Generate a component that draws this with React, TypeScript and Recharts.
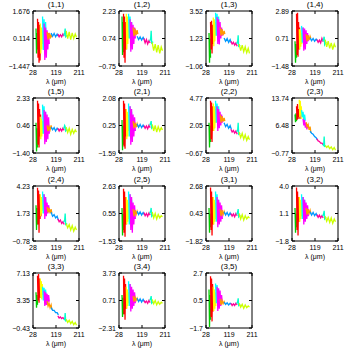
import { LineChart, Line, XAxis, YAxis, Label } from "recharts";

const FONT = "'Liberation Sans', Arial, sans-serif";

// wavelength samples (μm) for each coloured band
const GREEN_X = [40, 42, 44, 46];
const RED_X = [46, 48, 50, 52, 54, 56, 58, 60];
const YELLOW_X = [57, 59, 61, 63, 65, 67];
const CYAN_X = [66, 69, 72, 75, 78, 81];
const MAGENTA_X = [72, 75, 78, 81, 84, 87, 90, 93];
const ORANGE_X = [84, 88, 92, 96, 100, 103];
const BLUE_X = [100, 106, 112, 118, 124, 129];
const PINK_X = [127, 132, 137, 142, 147, 152];
const TEAL_X = [150, 154, 156, 158, 164];
const LIME_X = [160, 166, 172, 178, 184, 190, 196, 201];

const BAND_X = [GREEN_X, RED_X, YELLOW_X, CYAN_X, MAGENTA_X, ORANGE_X, BLUE_X, PINK_X, TEAL_X, LIME_X];
const BAND_COLORS = ["#00cc00", "#ff0000", "#ffff00", "#00ffff", "#ff00ff", "#ff9900", "#0099ff", "#ff0099", "#00ffcc", "#ccff00"];

const X_DOMAIN = [28, 211];
const X_TICKS = [28, 119.5, 211];
const X_TICK_LABELS = ["28", "119", "211"];

const TITLES = [
  "(1,1)", "(1,2)", "(1,3)", "(1,4)",
  "(1,5)", "(2,1)", "(2,2)", "(2,3)",
  "(2,4)", "(2,5)", "(3,1)", "(3,2)",
  "(3,3)", "(3,4)", "(3,5)",
];

// [min, mid, max] per panel
const Y_TICKS = [
  [-1.447, 0.1145, 1.676], [-0.75, 0.74, 2.23], [-1.06, 1.23, 3.52], [-1.48, 0.705, 2.89],
  [-1.4, 0.465, 2.33], [-1.59, 0.245, 2.08], [-0.67, 2.05, 4.77], [-0.77, 6.485, 13.74],
  [-0.78, 1.725, 4.23], [-1.53, 0.55, 2.63], [-1.82, 0.43, 2.68], [-1.8, 1.1, 4.0],
  [-0.43, 3.35, 7.13], [-2.31, 0.71, 3.73], [-1.7, 0.5, 2.7],
];
const Y_TICK_LABELS = [
  ["\u22121.447", "0.114", "1.676"], ["\u22120.75", "0.74", "2.23"], ["\u22121.06", "1.23", "3.52"], ["\u22121.48", "0.71", "2.89"],
  ["\u22121.40", "0.46", "2.33"], ["\u22121.59", "0.25", "2.08"], ["\u22120.67", "2.05", "4.77"], ["\u22120.77", "6.48", "13.74"],
  ["\u22120.78", "1.73", "4.23"], ["\u22121.53", "0.55", "2.63"], ["\u22121.82", "0.43", "2.68"], ["\u22121.8", "1.1", "4.0"],
  ["\u22120.43", "3.35", "7.13"], ["\u22122.31", "0.71", "3.73"], ["\u22121.7", "0.5", "2.7"],
];

const P11 = [
  [0.68, -0.73, 0.43, -0.51],
  [1.24, -0.98, 1.05, -1.26, 0.9, -1.13, 0.58, -0.2],
  [0.96, -0.73, 0.74, -0.51, 0.58, -0.2],
  [1.36, -0.54, 1.21, -0.35, 1.05, -0.04],
  [0.96, -1.1, 0.74, -0.98, 0.58, -0.51, 0.43, -0.2],
  [0.49, 0.05, 0.43, 0.11, 0.37, 0.18],
  [0.43, 0.24, 0.4, 0.21, 0.37, 0.24],
  [0.37, 0.21, 0.33, 0.21, 0.37, 0.24],
  [0.27, 0.43, 0.68, 0.21, 0.3],
  [0.55, 0.11, 0.49, 0.05, 0.43, 0.11, 0.37, 0.18],
];
const P12 = [
  [1.93, -0.15, 1.63, 0.0],
  [2.08, -0.3, 1.93, -0.57, 1.63, 0.14, 1.34, 0.44],
  [2.08, 0.14, 1.93, 0.44, 1.63, 0.74],
  [2.08, 0.74, 1.93, 0.59, 1.63, 0.89],
  [1.78, 0.02, 1.63, 0.14, 1.49, 0.44, 1.34, 0.74],
  [1.34, 0.86, 1.28, 0.92, 1.19, 0.98],
  [0.86, 0.68, 0.83, 0.65, 0.8, 0.68],
  [0.74, 0.5, 0.68, 0.44, 0.62, 0.5],
  [0.59, 0.74, 1.16, 0.5, 0.56],
  [0.53, 0.08, 0.44, -0.01, 0.38, -0.06, 0.29, 0.08],
];
const P13 = [
  [1.69, -0.79, 1.23, -0.37],
  [2.6, 0.31, 2.7, -0.01, 2.38, 0.77, 2.15, 1.0],
  [2.97, 0.59, 2.83, 1.0, 2.6, 1.46],
  [3.38, 1.46, 3.29, 1.28, 3.06, 1.69],
  [3.02, 0.77, 2.83, 0.73, 2.6, 1.23, 2.15, 1.46],
  [2.15, 1.46, 2.01, 1.5, 1.87, 1.6],
  [1.28, 1.0, 1.23, 0.91, 1.14, 0.86],
  [1.0, 0.77, 0.91, 0.68, 0.86, 0.59],
  [0.77, 1.0, 1.5, 0.59, 0.68],
  [0.77, 0.22, 0.68, 0.13, 0.54, 0.04, 0.41, -0.01],
];
const P14 = [
  [0.49, -1.22, 0.27, -0.82],
  [2.67, -0.61, 2.76, -0.74, 2.02, -0.17, 1.58, 0.27],
  [1.45, -0.17, 1.36, 0.05, 1.14, 0.27],
  [1.71, 0.36, 1.58, 0.49, 1.36, 0.71],
  [1.58, -0.26, 1.49, -0.17, 1.36, 0.27, 1.14, 0.49],
  [1.05, 0.49, 0.97, 0.57, 0.88, 0.71],
  [0.75, 0.53, 0.71, 0.49, 0.66, 0.53],
  [0.62, 0.4, 0.57, 0.36, 0.71, 0.44],
  [0.49, 0.71, 0.84, 0.22, 0.44],
  [0.62, 0.05, 0.49, -0.08, 0.36, -0.17, 0.27, 0.01],
];
const P15 = [
  [0.65, -1.29, 0.28, -1.03],
  [2.14, -0.84, 1.96, -1.03, 1.58, -0.28, 1.21, -0.09],
  [1.06, -0.47, 0.91, -0.28, 0.76, -0.09],
  [1.88, -0.09, 1.77, -0.24, 1.4, 0.09],
  [1.51, -0.8, 1.4, -0.65, 1.21, -0.47, 1.02, -0.09],
  [0.47, 0.09, 0.39, 0.17, 0.47, 0.24],
  [0.35, 0.17, 0.32, 0.09, 0.28, 0.17],
  [0.28, 0.09, 0.24, 0.09, 0.28, 0.13],
  [0.24, 0.47, 0.39, 0.09, 0.2],
  [0.35, -0.02, 0.28, -0.13, 0.2, -0.06, 0.17, 0.02],
];
const P21 = [
  [0.61, -1.41, 0.25, -1.04],
  [1.9, -1.15, 1.71, -1.3, 1.35, -0.49, 0.98, -0.12],
  [1.35, -0.67, 1.16, -0.49, 0.98, -0.12],
  [1.71, -0.49, 1.53, -0.31, 1.16, -0.12],
  [1.53, -1.04, 1.35, -0.86, 0.98, -0.49, 0.8, -0.12],
  [0.54, 0.06, 0.43, 0.13, 0.36, 0.17],
  [0.36, 0.13, 0.32, 0.1, 0.28, 0.13],
  [0.25, 0.06, 0.21, 0.02, 0.25, 0.1],
  [0.25, 0.43, 0.54, 0.06, 0.17],
  [0.32, -0.12, 0.25, -0.2, 0.17, -0.12, 0.1, -0.05],
];
const P22 = [
  [2.32, -0.13, 2.05, 0.42],
  [4.5, 0.69, 4.33, 0.42, 3.95, 1.51, 3.41, 1.78],
  [4.23, 1.51, 3.95, 1.78, 3.68, 2.32],
  [4.5, 2.32, 4.23, 2.05, 3.95, 2.59],
  [3.95, 1.51, 3.68, 1.78, 3.41, 2.05, 3.14, 2.32],
  [3.14, 2.32, 2.97, 2.43, 2.81, 2.49],
  [2.32, 1.94, 2.16, 1.78, 2.05, 1.67],
  [1.67, 1.4, 1.56, 1.29, 1.51, 1.18],
  [1.4, 1.62, 2.32, 1.18, 1.29],
  [1.4, 0.85, 1.29, 0.69, 1.13, 0.58, 0.96, 0.64],
];
const P23 = [
  [9.39, 7.36, 9.68, 7.65],
  [11.56, 7.94, 12.14, 8.23, 10.84, 8.66, 10.11, 8.23],
  [13.3, 8.66, 13.01, 9.39, 11.56, 8.23],
  [10.55, 8.66, 10.11, 7.94, 9.39, 7.79],
  [8.23, 6.49, 7.94, 5.9, 7.21, 5.47, 6.78, 5.76],
  [7.36, 6.19, 6.78, 5.32, 6.19, 4.6],
  [5.03, 4.45, 4.16, 3.58, 3.29, 2.71],
  [3.0, 2.42, 2.28, 1.84, 1.84, 1.41],
  [1.55, 1.26, 3.58, 0.97, 1.12],
  [1.26, 0.68, 1.12, 0.39, 0.83, 0.1, 0.68, -0.04],
];
const P24 = [
  [2.48, 0.22, 2.23, 0.72],
  [4.08, 0.72, 3.83, -0.03, 3.48, 1.22, 3.23, 1.47],
  [3.48, 1.47, 3.23, 1.73, 2.98, 1.98],
  [3.73, 1.73, 3.48, 1.98, 3.23, 2.23],
  [3.48, 1.22, 3.23, 1.47, 2.73, 1.73, 2.48, 1.98],
  [2.33, 1.83, 2.23, 1.73, 2.13, 1.73],
  [1.83, 1.47, 1.62, 1.32, 1.47, 1.12],
  [1.22, 0.97, 1.12, 0.82, 0.97, 0.72],
  [0.92, 1.12, 1.73, 0.72, 0.82],
  [0.82, 0.42, 0.72, 0.22, 0.62, 0.12, 0.47, 0.22],
];
const P25 = [
  [0.97, -1.11, 0.55, -0.7],
  [2.42, -0.91, 2.21, -1.2, 1.8, -0.28, 1.38, 0.13],
  [1.8, -0.28, 1.59, -0.07, 1.38, 0.13],
  [2.21, -0.28, 2.01, -0.07, 1.59, 0.34],
  [2.01, -0.7, 1.8, -0.91, 1.38, -0.28, 1.17, 0.13],
  [0.88, 0.34, 0.8, 0.47, 0.72, 0.55],
  [0.72, 0.47, 0.67, 0.43, 0.63, 0.47],
  [0.63, 0.38, 0.55, 0.34, 0.59, 0.43],
  [0.55, 0.76, 0.97, 0.34, 0.47],
  [0.67, 0.22, 0.55, 0.13, 0.47, 0.22, 0.38, 0.3],
];
const P31 = [
  [0.88, -1.15, 0.43, -0.7],
  [2.55, -0.92, 2.23, -1.37, 1.78, -0.47, 1.33, -0.02],
  [1.78, -0.47, 1.56, -0.25, 1.33, -0.02],
  [2.23, -0.25, 2.01, -0.02, 1.56, 0.21],
  [1.78, -0.7, 1.56, -0.47, 1.33, -0.25, 1.11, -0.02],
  [0.79, 0.21, 0.7, 0.34, 0.61, 0.43],
  [0.57, 0.3, 0.52, 0.25, 0.48, 0.3],
  [0.43, 0.21, 0.39, 0.16, 0.43, 0.25],
  [0.34, 0.57, 0.79, 0.16, 0.3],
  [0.43, -0.02, 0.34, -0.11, 0.25, -0.02, 0.16, 0.07],
];
const P32 = [
  [1.68, -0.93, 1.1, -0.35],
  [3.83, -0.64, 3.42, -1.22, 2.84, 0.23, 2.26, 0.52],
  [2.84, 0.23, 2.55, 0.52, 2.26, 0.81],
  [3.13, 0.52, 2.84, 0.81, 2.55, 1.1],
  [2.84, -0.06, 2.55, 0.23, 2.26, 0.52, 1.97, 0.81],
  [1.68, 0.98, 1.56, 1.1, 1.45, 1.1],
  [1.27, 0.93, 1.22, 0.87, 1.1, 0.81],
  [0.98, 0.69, 0.93, 0.64, 0.87, 0.64],
  [0.81, 1.1, 1.39, 0.52, 0.69],
  [0.81, 0.29, 0.69, 0.17, 0.64, 0.06, 0.52, 0.23],
];
const P33 = [
  [4.48, 2.37, 4.11, 2.75],
  [6.75, 3.35, 6.98, 3.05, 6.37, 3.73, 6.0, 4.11],
  [6.37, 3.73, 6.0, 3.5, 5.62, 4.11],
  [5.24, 3.35, 5.09, 3.27, 4.86, 3.73],
  [4.71, 2.59, 4.48, 2.75, 4.26, 2.97, 4.11, 3.2],
  [3.27, 2.59, 2.97, 2.37, 2.75, 2.14],
  [2.37, 1.99, 1.99, 1.69, 1.69, 1.38],
  [1.23, 0.93, 1.08, 0.86, 1.0, 0.78],
  [0.78, 0.7, 1.61, 0.55, 0.63],
  [0.78, 0.33, 0.63, 0.17, 0.48, 0.02, 0.33, -0.05],
];
const P34 = [
  [1.31, -1.1, 1.01, -0.8],
  [3.43, -0.8, 3.13, -1.4, 2.52, -0.2, 1.92, 0.11],
  [2.22, -0.2, 1.92, 0.11, 1.62, 0.41],
  [2.82, 0.11, 2.52, 0.41, 1.92, 0.71],
  [2.52, -0.5, 2.22, -0.2, 1.92, 0.11, 1.62, 0.41],
  [1.19, 0.59, 1.07, 0.71, 0.95, 0.71],
  [0.95, 0.59, 0.89, 0.53, 0.83, 0.59],
  [0.71, 0.47, 0.65, 0.41, 0.71, 0.47],
  [0.71, 0.95, 1.19, 0.41, 0.59],
  [0.83, 0.35, 0.71, 0.23, 0.59, 0.29, 0.53, 0.41],
];
const P35 = [
  [1.38, -1.61, 0.94, -1.04],
  [2.44, -0.82, 2.26, -1.17, 1.82, -0.38, 1.38, 0.06],
  [1.6, -0.34, 1.38, -0.16, 1.16, 0.06],
  [1.86, 0.28, 1.73, 0.1, 1.38, 0.5],
  [1.6, -0.34, 1.47, -0.16, 1.29, 0.06, 0.94, 0.28],
  [0.63, 0.15, 0.5, 0.24, 0.41, 0.28],
  [0.37, 0.19, 0.32, 0.15, 0.28, 0.19],
  [0.28, 0.1, 0.24, 0.1, 0.28, 0.15],
  [0.24, 0.41, 0.68, 0.1, 0.19],
  [0.28, -0.03, 0.19, -0.12, 0.15, -0.07, 0.06, -0.03],
];

const PANELS = [P11, P12, P13, P14, P15, P21, P22, P23, P24, P25, P31, P32, P33, P34, P35];

const COL_LEFT = [0, 86, 173, 259];
const ROW_TOP = [0, 87, 175, 262];
const CELL_W = 86;
const CELL_H = 87;

const textStyle = { fontSize: 7, fontFamily: FONT, fill: "#000" };

function BottomTick(props: any) {
  const { x, y, index } = props;
  return (
    <g>
      <line x1={x} x2={x} y1={y} y2={y - 3} stroke="#000" />
      <text x={x} y={y + 9} textAnchor="middle" {...textStyle}>
        {X_TICK_LABELS[index]}
      </text>
    </g>
  );
}

function TopTick(props: any) {
  const { x, y } = props;
  return <line x1={x} x2={x} y1={y} y2={y + 3} stroke="#000" />;
}

function RightTick(props: any) {
  const { x, y } = props;
  return <line x1={x} x2={x - 3} y1={y} y2={y} stroke="#000" />;
}

function leftTick(labels: string[]) {
  return (props: any) => {
    const { x, y, index } = props;
    return (
      <g>
        <line x1={x} x2={x + 3} y1={y} y2={y} stroke="#000" />
        <text x={x - 3} y={y + 2.5} textAnchor="end" {...textStyle}>
          {labels[index]}
        </text>
      </g>
    );
  };
}

function Panel({ idx }: { idx: number }) {
  const values = PANELS[idx];
  const ticks = Y_TICKS[idx];
  const domain = [ticks[0], ticks[2]];
  const col = idx % 4;
  const row = Math.floor(idx / 4);
  return (
    <div style={{ position: "absolute", left: COL_LEFT[col], top: ROW_TOP[row], width: CELL_W, height: CELL_H }}>
      <div
        style={{
          position: "absolute",
          left: 33,
          width: 46,
          top: 0,
          textAlign: "center",
          fontSize: 8,
          lineHeight: "10px",
          fontFamily: FONT,
        }}
      >
        {TITLES[idx]}
      </div>
      <LineChart width={CELL_W} height={CELL_H} margin={{ top: 10, right: 6, bottom: 0, left: 0 }}>
        <XAxis
          type="number"
          dataKey="x"
          domain={X_DOMAIN}
          ticks={X_TICKS}
          interval={0}
          allowDataOverflow
          height={21}
          tickSize={0}
          tickMargin={0}
          tick={BottomTick}
          axisLine={{ stroke: "#000" }}
        >
          <Label value="λ (μm)" position="insideBottom" offset={3} fontSize={7} fontFamily={FONT} fill="#000" />
        </XAxis>
        <XAxis
          xAxisId="t"
          orientation="top"
          type="number"
          dataKey="x"
          domain={X_DOMAIN}
          ticks={X_TICKS}
          interval={0}
          allowDataOverflow
          height={1}
          tickSize={0}
          tickMargin={0}
          tick={TopTick}
          axisLine={{ stroke: "#000" }}
        />
        <YAxis
          type="number"
          domain={domain}
          ticks={ticks}
          interval={0}
          allowDataOverflow
          width={33}
          tickSize={0}
          tickMargin={0}
          tick={leftTick(Y_TICK_LABELS[idx])}
          axisLine={{ stroke: "#000" }}
        />
        <YAxis
          yAxisId="r"
          orientation="right"
          type="number"
          domain={domain}
          ticks={ticks}
          interval={0}
          allowDataOverflow
          width={1}
          tickSize={0}
          tickMargin={0}
          tick={RightTick}
          axisLine={{ stroke: "#000" }}
        />
        {values.map((ys, b) => (
          <Line
            key={b}
            data={BAND_X[b].map((x, i) => ({ x, y: ys[i] }))}
            dataKey="y"
            type="linear"
            stroke={BAND_COLORS[b]}
            strokeWidth={1.3}
            dot={false}
            activeDot={false}
            isAnimationActive={false}
          />
        ))}
      </LineChart>
    </div>
  );
}

export default function App() {
  return (
    <div style={{ position: "fixed", left: 0, top: 0, width: 350, height: 350, background: "#fff" }}>
      {TITLES.map((_, i) => (
        <Panel key={i} idx={i} />
      ))}
    </div>
  );
}
